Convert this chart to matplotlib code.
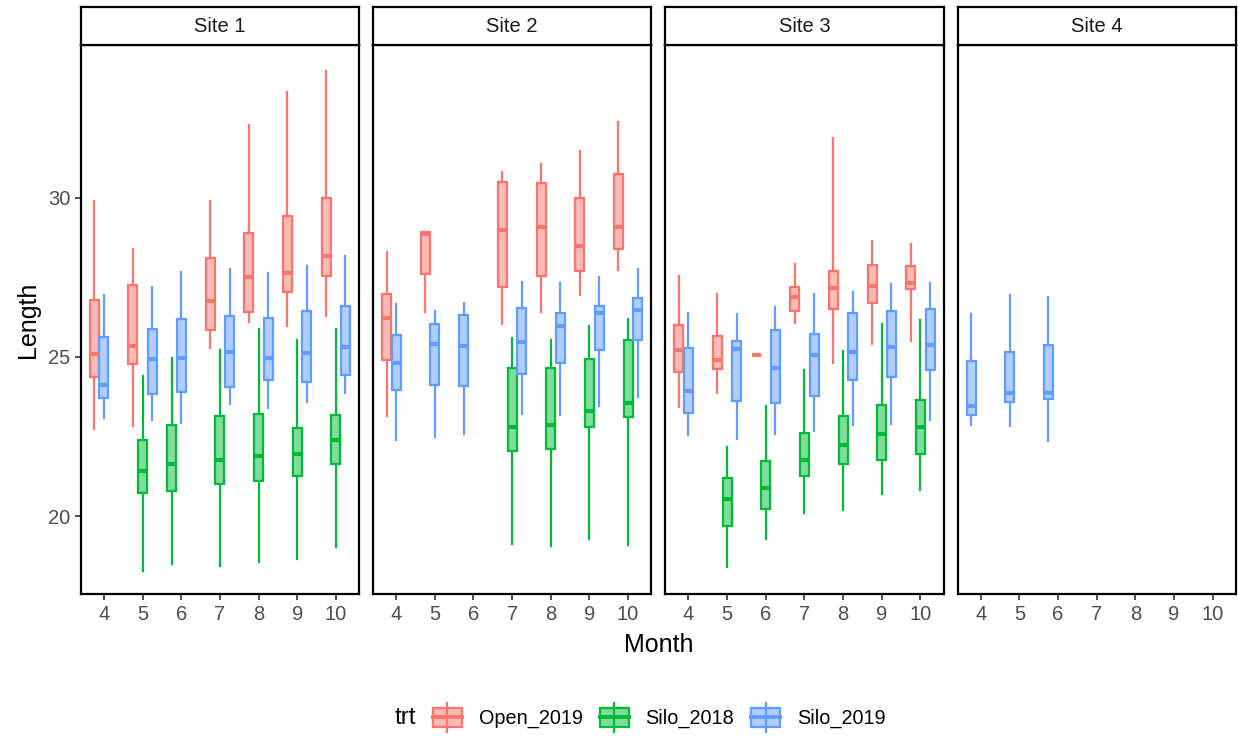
import matplotlib
matplotlib.use("Agg")
import matplotlib.pyplot as plt
from matplotlib.colors import to_rgba
from matplotlib.lines import Line2D
from matplotlib.patches import Patch, Rectangle
from matplotlib.legend_handler import HandlerBase

plt.rcParams['font.family'] = ['Liberation Sans', 'DejaVu Sans']

# each box: (whisker low, q1, median, q3, whisker high)
months = [4, 5, 6, 7, 8, 9, 10]
sites = ["Site 1", "Site 2", "Site 3", "Site 4"]
trts = ["Open_2019", "Silo_2018", "Silo_2019"]
trt_colors = ["#F8766D", "#00BA38", "#619CFF"]

s1_open_m = [4, 5, 7, 8, 9, 10]
s1_open = [(22.72, 24.38, 25.08, 26.79, 29.89),
           (22.83, 24.78, 25.35, 27.25, 28.39),
           (25.27, 25.84, 26.76, 28.12, 29.89),
           (26.09, 26.41, 27.52, 28.89, 32.30),
           (25.96, 27.04, 27.64, 29.43, 33.32),
           (26.30, 27.53, 28.18, 29.98, 33.99)]
s1_s18_m = [5, 6, 7, 8, 9, 10]
s1_s18 = [(18.26, 20.71, 21.41, 22.39, 24.40),
          (18.50, 20.80, 21.63, 22.85, 24.95),
          (18.42, 21.01, 21.77, 23.15, 25.22),
          (18.57, 21.11, 21.88, 23.21, 25.87),
          (18.64, 21.25, 21.96, 22.77, 25.52),
          (19.02, 21.63, 22.39, 23.18, 25.87)]
s1_s19_m = [4, 5, 6, 7, 8, 9, 10]
s1_s19 = [(23.08, 23.72, 24.13, 25.63, 26.96),
          (23.02, 23.83, 24.93, 25.87, 27.21),
          (22.91, 23.91, 24.98, 26.20, 27.66),
          (23.53, 24.04, 25.16, 26.27, 27.75),
          (23.39, 24.26, 24.98, 26.23, 27.64),
          (23.59, 24.22, 25.11, 26.43, 27.86),
          (23.86, 24.42, 25.30, 26.61, 28.17)]

s2_open_m = [4, 5, 7, 8, 9, 10]
s2_open = [(23.13, 24.90, 26.21, 26.99, 28.28),
           (26.42, 27.62, 28.86, 28.91, 28.93),
           (26.03, 27.20, 28.98, 30.50, 30.82),
           (26.40, 27.55, 29.09, 30.45, 31.05),
           (26.96, 27.69, 28.48, 29.98, 31.47),
           (27.73, 28.39, 29.09, 30.74, 32.37)]
s2_s18_m = [7, 8, 9, 10]
s2_s18 = [(19.13, 22.03, 22.80, 24.65, 25.58),
          (19.05, 22.12, 22.87, 24.65, 25.52),
          (19.29, 22.80, 23.30, 24.92, 25.98),
          (19.10, 23.11, 23.55, 25.52, 26.18)]
s2_s19_m = [4, 5, 6, 7, 8, 9, 10]
s2_s19 = [(22.38, 23.95, 24.82, 25.68, 26.66),
          (22.47, 24.11, 25.39, 26.03, 26.44),
          (22.59, 24.09, 25.34, 26.31, 26.68),
          (23.21, 24.45, 25.47, 26.54, 27.34),
          (23.17, 24.82, 25.97, 26.39, 27.33),
          (23.45, 25.21, 26.39, 26.59, 27.52),
          (23.74, 25.52, 26.47, 26.84, 27.75)]

s3_open_m = [4, 5, 6, 7, 8, 9, 10]
s3_open = [(23.41, 24.53, 25.23, 26.00, 27.55),
           (23.85, 24.63, 24.90, 25.65, 26.99),
           (25.04, 25.05, 25.05, 25.05, 25.06),
           (26.05, 26.44, 26.87, 27.20, 27.93),
           (24.81, 26.49, 27.17, 27.69, 31.87),
           (25.42, 26.68, 27.22, 27.90, 28.65),
           (25.50, 27.12, 27.33, 27.86, 28.56)]
s3_s18_m = [5, 6, 7, 8, 9, 10]
s3_s18 = [(18.40, 19.68, 20.52, 21.20, 22.17),
          (19.27, 20.23, 20.88, 21.73, 23.46),
          (20.11, 21.26, 21.75, 22.61, 24.58),
          (20.18, 21.62, 22.24, 23.13, 25.18),
          (20.70, 21.77, 22.59, 23.50, 26.03),
          (20.83, 21.96, 22.80, 23.64, 26.17)]
s3_s19_m = [4, 5, 6, 7, 8, 9, 10]
s3_s19 = [(22.54, 23.24, 23.93, 25.28, 26.39),
          (22.43, 23.61, 25.26, 25.49, 26.34),
          (22.59, 23.55, 24.64, 25.86, 26.57),
          (22.67, 23.76, 25.05, 25.71, 26.97),
          (22.87, 24.27, 25.15, 26.38, 27.05),
          (22.88, 24.37, 25.32, 26.44, 27.28),
          (23.01, 24.58, 25.37, 26.52, 27.31)]

s4_s19_m = [4, 5, 6]
s4_s19 = [(22.85, 23.18, 23.45, 24.86, 26.36),
          (22.82, 23.58, 23.88, 25.14, 26.95),
          (22.36, 23.67, 23.88, 25.36, 26.89)]

site_data = {
    "Site 1": {"Open_2019": (s1_open_m, s1_open), "Silo_2018": (s1_s18_m, s1_s18), "Silo_2019": (s1_s19_m, s1_s19)},
    "Site 2": {"Open_2019": (s2_open_m, s2_open), "Silo_2018": (s2_s18_m, s2_s18), "Silo_2019": (s2_s19_m, s2_s19)},
    "Site 3": {"Open_2019": (s3_open_m, s3_open), "Silo_2018": (s3_s18_m, s3_s18), "Silo_2019": (s3_s19_m, s3_s19)},
    "Site 4": {"Silo_2019": (s4_s19_m, s4_s19)},
}


class BoxHandler(HandlerBase):
    def create_artists(self, legend, orig_handle, xdescent, ydescent, width, height, fontsize, trans):
        ec = orig_handle.get_edgecolor()
        fc = orig_handle.get_facecolor()
        x0, y0 = -xdescent, -ydescent
        cx = x0 + width / 2
        whisker = Line2D([cx, cx], [y0 - 0.22 * height, y0 + 1.22 * height], color=ec, lw=1.6, transform=trans)
        box = Rectangle((x0, y0), width, height, facecolor=fc, edgecolor=ec, lw=1.6, transform=trans)
        med = Line2D([x0, x0 + width], [y0 + height / 2] * 2, color=ec, lw=2.8, transform=trans)
        return [whisker, box, med]


W, H = 1238, 738
fig = plt.figure(figsize=(W / 100, H / 100), dpi=100)

panel_w = 278.3
gap = 14.0
left0 = 80.7
top_px = 45.0
bottom_px = 594.3
strip_top = 7.0

for i, site in enumerate(sites):
    lpx = left0 + i * (panel_w + gap)
    ax = fig.add_axes([lpx / W, 1 - bottom_px / H, panel_w / W, (bottom_px - top_px) / H])
    sax = fig.add_axes([lpx / W, 1 - top_px / H, panel_w / W, (top_px - strip_top) / H])

    groups = site_data[site]
    for t, trt in enumerate(trts):
        if trt not in groups:
            continue
        m_list, boxes = groups[trt]
        color = trt_colors[t]
        stats = []
        pos = []
        for m, b in zip(m_list, boxes):
            present = [tt for tt in trts if tt in groups and m in groups[tt][0]]
            offset = -0.25 + 0.25 * present.index(trt)
            pos.append(m + offset)
            stats.append(dict(whislo=b[0], q1=b[1], med=b[2], q3=b[3], whishi=b[4], fliers=[]))
        ax.bxp(stats, positions=pos, widths=0.235, patch_artist=True,
               showcaps=False, showfliers=False, manage_ticks=False,
               boxprops=dict(facecolor=to_rgba(color, 0.5), edgecolor=color, linewidth=1.6),
               whiskerprops=dict(color=color, linewidth=1.6),
               medianprops=dict(color=color, linewidth=3.0, solid_capstyle='butt'))

    ax.set_xlim(3.4, 10.6)
    ax.set_ylim(17.54, 34.80)
    ax.set_xticks(months)
    ax.set_xticklabels([str(m) for m in months])
    for sp in ax.spines.values():
        sp.set_linewidth(1.6)
        sp.set_color('black')
    ax.tick_params(axis='x', length=4, width=1.2, color='#333333', labelcolor='#4D4D4D',
                   labelsize=14.5, pad=3.5)
    if i == 0:
        ax.set_yticks([20, 25, 30])
        ax.tick_params(axis='y', length=4, width=1.2, color='#333333', labelcolor='#4D4D4D',
                       labelsize=14.5, pad=3.5)
    else:
        ax.set_yticks([])

    sax.set_xticks([])
    sax.set_yticks([])
    for sp in sax.spines.values():
        sp.set_linewidth(1.6)
        sp.set_color('black')
    sax.text(0.5, 0.5, site, ha='center', va='center', fontsize=14.5, color='#1A1A1A',
             transform=sax.transAxes)

mid_x = (left0 + 4 * panel_w + 3 * gap + left0) / 2
fig.text(mid_x / W, 1 - 645 / H, "Month", ha='center', va='center', fontsize=18)
fig.text(28 / W, 1 - (top_px + bottom_px) / 2 / H, "Length", ha='center', va='center',
         rotation=90, fontsize=18)

fig.text(405 / W, 1 - 718 / H, "trt", ha='center', va='center', fontsize=17.5)
handles = [Patch(facecolor=to_rgba(c, 0.5), edgecolor=c, label=t) for t, c in zip(trts, trt_colors)]
fig.legend(handles=handles, loc='center left', bbox_to_anchor=(433 / W, 1 - 718 / H),
           ncol=3, frameon=False, fontsize=14.3, borderpad=0, borderaxespad=0,
           handlelength=1.46, handleheight=1.14, handletextpad=0.85, columnspacing=0.85,
           handler_map={Patch: BoxHandler()})

fig.savefig("out.png", dpi=100)
